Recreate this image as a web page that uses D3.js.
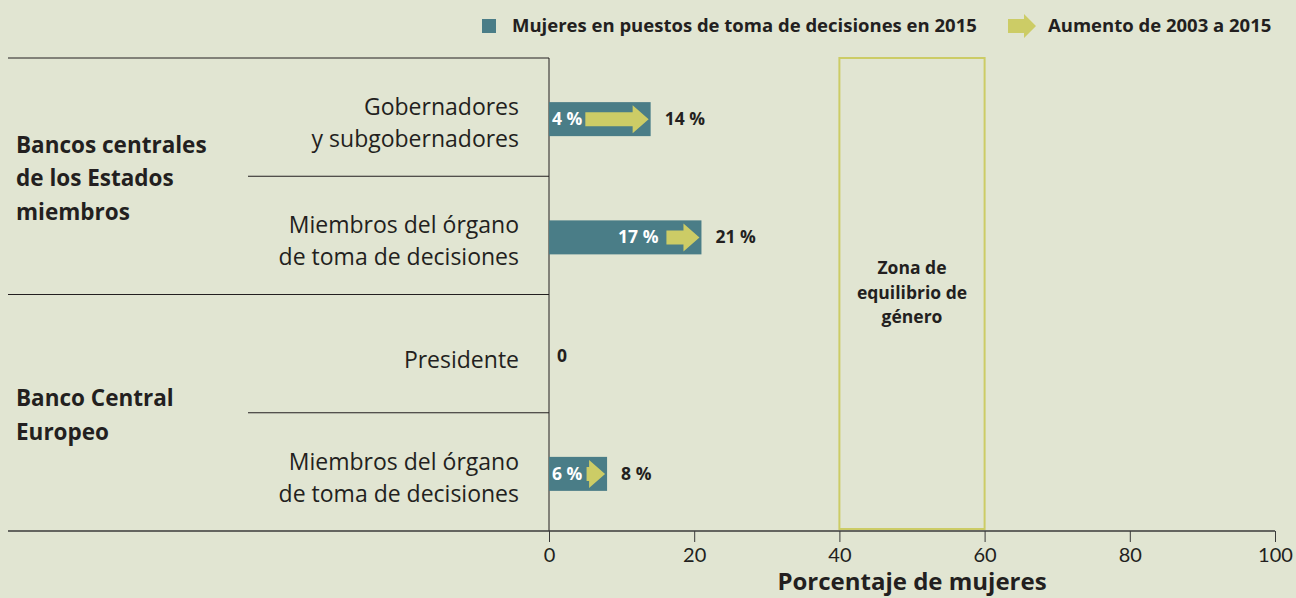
<!DOCTYPE html>
<html>
<head>
<meta charset="utf-8">
<script src="https://cdn.jsdelivr.net/npm/d3@7"></script>
<style>
  html, body { margin: 0; padding: 0; background: #e1e5d2; }
  svg { display: block; font-family: "Open Sans", Lato, sans-serif; }
  .cat { font-size: 23px; fill: #231f20; }
  .grp { font-size: 22.5px; font-weight: bold; fill: #231f20; }
  .val { font-size: 17.5px; font-weight: bold; fill: #231f20; }
  .inlbl { font-size: 17.5px; font-weight: bold; fill: #fff; }
  .axis text { font-family: "Liberation Sans Narrow", Lato, sans-serif; font-size: 20px; fill: #231f20; }
  .axis path, .axis line { stroke: #3a3a3a; }
</style>
</head>
<body>
<svg id="chart" width="1296" height="598"></svg>
<script>
// rows, top to bottom
const rowLabels = [
  ["Gobernadores", "y subgobernadores"],
  ["Miembros del órgano", "de toma de decisiones"],
  ["Presidente"],
  ["Miembros del órgano", "de toma de decisiones"]
];
const groupLabels = [
  ["Bancos centrales", "de los Estados", "miembros"],
  ["Banco Central", "Europeo"]
];
const groupRows = [[0, 1], [2, 3]];
const start2003 = [4, 17, 0, 6];
const value2015 = [14, 21, 0, 8];
const xTicks = [0, 20, 40, 60, 80, 100];
const balanceZone = [40, 60];

const BAR = "#4a7d87", ARROW = "#cccc66", INK = "#231f20";

const svg = d3.select("#chart");
const x = d3.scaleLinear().domain([0, 100]).range([549, 1275]);
const y = d3.scaleBand().domain(d3.range(rowLabels.length)).range([58, 531]);
const axisY = 531;

// gender balance zone
svg.append("rect")
  .attr("x", x(balanceZone[0])).attr("y", 58)
  .attr("width", x(balanceZone[1]) - x(balanceZone[0]))
  .attr("height", axisY - 2 - 58)
  .attr("fill", "none").attr("stroke", ARROW).attr("stroke-width", 2);

svg.append("text")
  .attr("text-anchor", "middle").attr("font-size", 17.5).attr("font-weight", "bold").attr("fill", INK)
  .selectAll("tspan").data(["Zona de", "equilibrio de", "género"]).join("tspan")
  .attr("x", (x(balanceZone[0]) + x(balanceZone[1])) / 2)
  .attr("y", (d, i) => 274 + i * 24.5)
  .text(d => d);

// table lines
svg.append("line").attr("x1", 8).attr("x2", x(0)).attr("y1", 58).attr("y2", 58).attr("stroke", INK);
svg.append("line").attr("x1", x(0)).attr("x2", x(0)).attr("y1", 58).attr("y2", axisY).attr("stroke", INK);
[1, 2, 3].forEach(i => {
  const startX = (i === 2) ? 8 : 248;
  svg.append("line").attr("x1", startX).attr("x2", x(0))
    .attr("y1", y(i)).attr("y2", y(i)).attr("stroke", INK);
});

// x axis
const axis = svg.append("g").attr("class", "axis")
  .attr("transform", `translate(0,${axisY})`)
  .call(d3.axisBottom(x).tickValues(xTicks).tickSize(11).tickPadding(6).tickSizeOuter(0));
axis.select(".domain").remove();
svg.append("line").attr("x1", 8).attr("x2", x(100)).attr("y1", axisY).attr("y2", axisY)
  .attr("stroke", "#3a3a3a").attr("stroke-width", 1.5);

svg.append("text").attr("x", (x(0) + x(100)) / 2).attr("y", 590)
  .attr("text-anchor", "middle").attr("font-size", 24).attr("font-weight", "bold").attr("fill", INK)
  .text("Porcentaje de mujeres");

// row labels
rowLabels.forEach((lines, i) => {
  const cy = y(i) + y.bandwidth() / 2 + 2;
  const t = svg.append("text").attr("class", "cat").attr("text-anchor", "end");
  lines.forEach((ln, j) => {
    t.append("tspan").attr("x", 519)
      .attr("y", cy + 12 + (j - (lines.length - 1) / 2) * 32)
      .text(ln);
  });
});

// group labels
groupLabels.forEach((lines, g) => {
  const rows = groupRows[g];
  const top = y(rows[0]), bottom = y(rows[rows.length - 1]) + y.bandwidth();
  const cy = (top + bottom) / 2 + 2;
  const t = svg.append("text").attr("class", "grp");
  lines.forEach((ln, j) => {
    t.append("tspan").attr("x", 16)
      .attr("y", cy + 8 + (j - (lines.length - 1) / 2) * 33.5)
      .text(ln);
  });
});

// bars, arrows, labels
const barH = 34;
value2015.forEach((v, i) => {
  const cy = y(i) + y.bandwidth() / 2 + 2;
  if (v > 0) {
    svg.append("rect").attr("x", x(0)).attr("y", cy - barH / 2)
      .attr("width", x(v) - x(0)).attr("height", barH).attr("fill", BAR);

    const inl = svg.append("text").attr("class", "inlbl").attr("y", cy + 6)
      .text(start2003[i] + " %");
    const w = inl.node().getComputedTextLength();
    const a0 = Math.max(x(start2003[i]) - 6, x(0) + 3 + w + 3);
    inl.attr("x", Math.max(x(0) + 3, a0 - 8 - w));

    const a1 = x(v) - 2;
    const headL = Math.min(16, a1 - a0);
    const sh = 7, hh = 14;
    const pts = [
      [a0, cy - sh], [a1 - headL, cy - sh], [a1 - headL, cy - hh], [a1, cy],
      [a1 - headL, cy + hh], [a1 - headL, cy + sh], [a0, cy + sh]
    ];
    svg.append("path").attr("d", d3.line()(pts) + "Z").attr("fill", ARROW);
  }
  svg.append("text").attr("class", "val")
    .attr("x", x(v) + (v > 0 ? 14 : 8)).attr("y", cy + 6)
    .text(v > 0 ? v + " %" : "0");
});

// legend
svg.append("rect").attr("x", 482).attr("y", 19).attr("width", 14).attr("height", 14).attr("fill", BAR);
svg.append("text").attr("x", 512).attr("y", 32).attr("font-size", 18.5).attr("font-weight", "bold").attr("fill", INK)
  .text("Mujeres en puestos de toma de decisiones en 2015");
const lx = 1008, ly = 26;
svg.append("path").attr("fill", ARROW).attr("d", d3.line()([
  [lx, ly - 7], [lx + 16, ly - 7], [lx + 16, ly - 12], [lx + 28, ly],
  [lx + 16, ly + 12], [lx + 16, ly + 7], [lx, ly + 7]
]) + "Z");
svg.append("text").attr("x", 1048).attr("y", 32).attr("font-size", 18.5).attr("font-weight", "bold").attr("fill", INK)
  .text("Aumento de 2003 a 2015");
</script>
</body>
</html>
